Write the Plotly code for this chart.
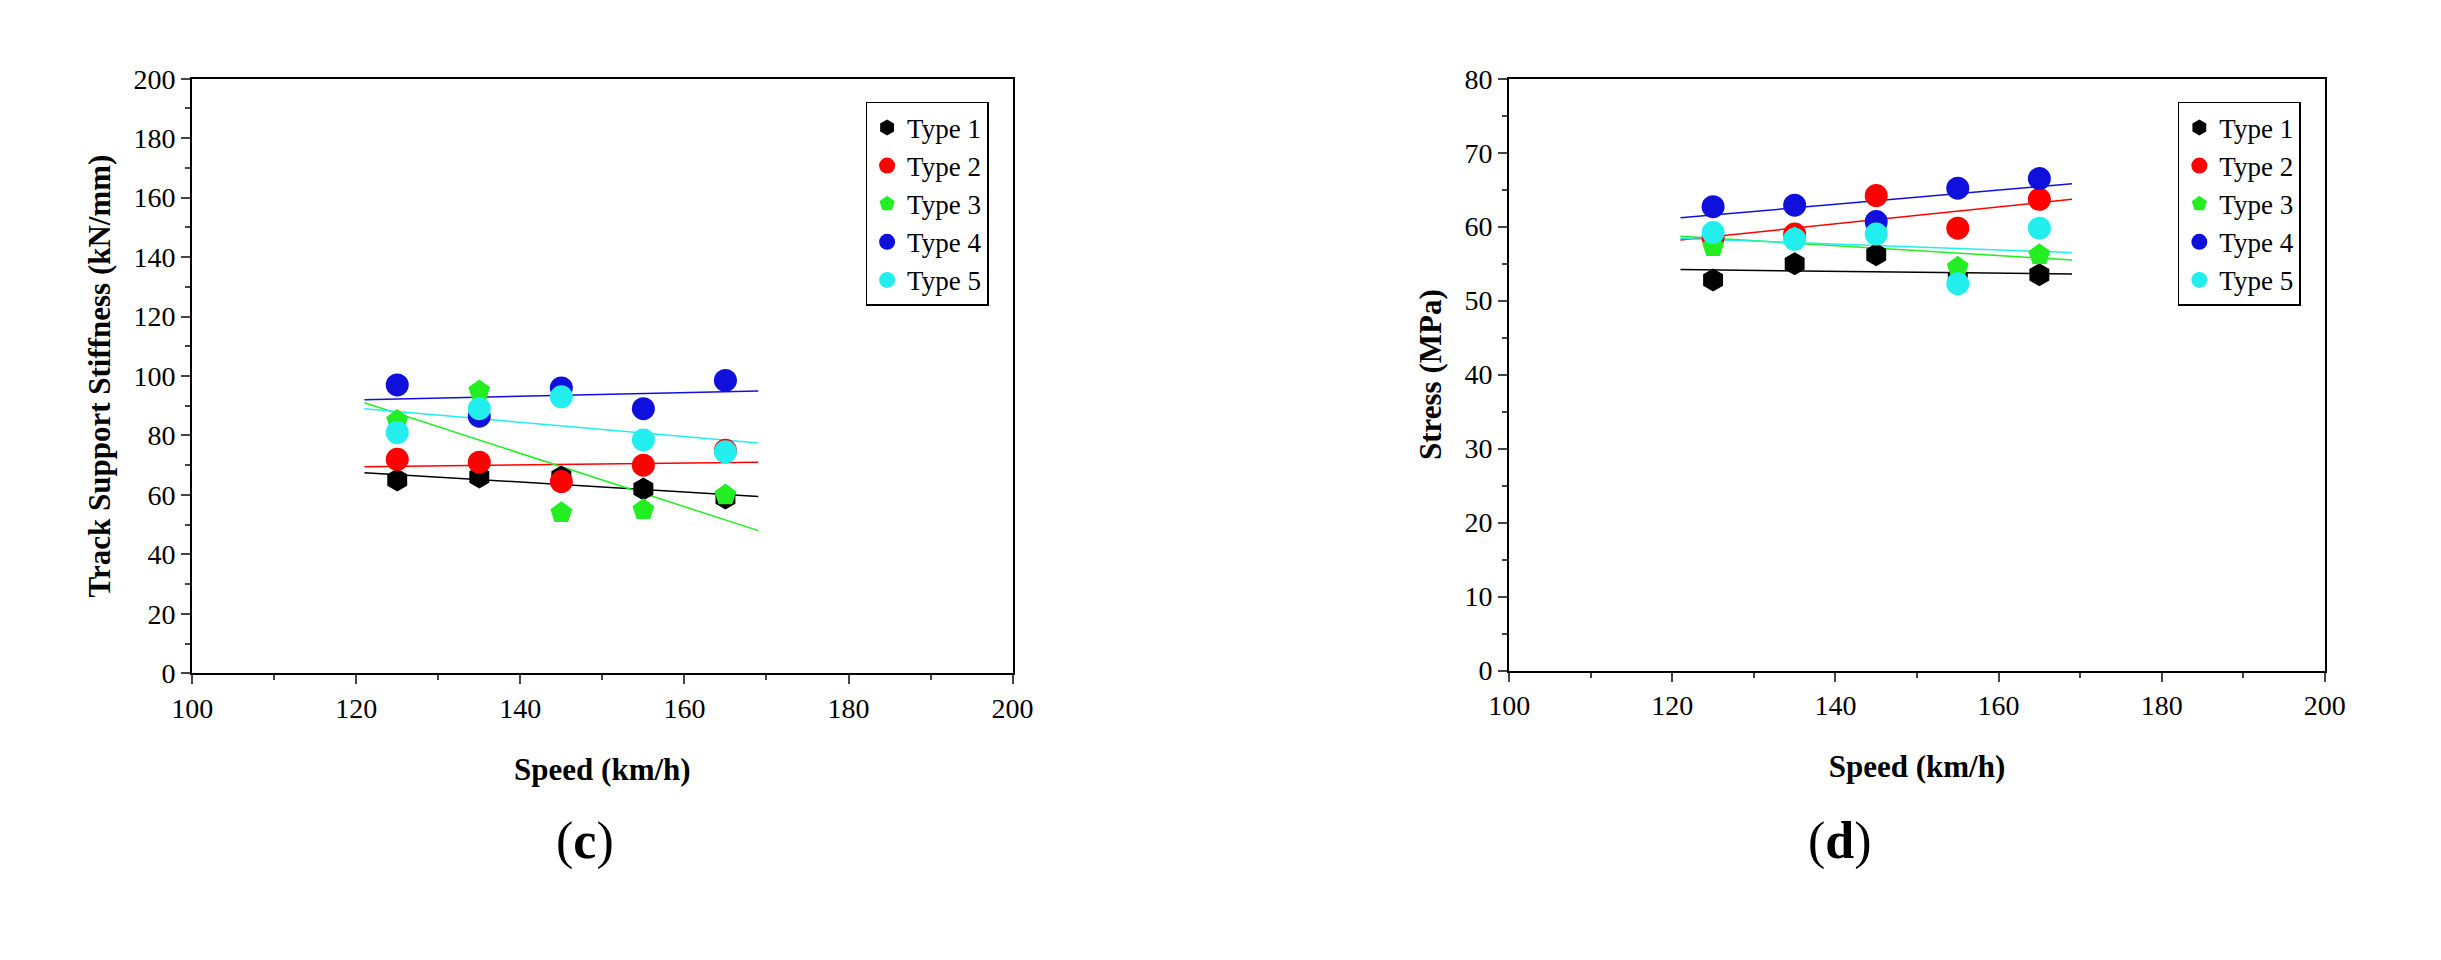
import plotly.graph_objects as go

speed = [125, 135, 145, 155, 165]
fit_x = [121, 169]
types = ["Type 1", "Type 2", "Type 3", "Type 4", "Type 5"]
colors = ["black", "red", "#22ee22", "#1010dd", "#22eeee"]
symbols = ["hexagon", "circle", "pentagon", "circle", "circle"]

# (c) track support stiffness
stiff = [
    [65, 66, 66, 62, 59],
    [72, 71, 64.5, 70, 75],
    [85, 95, 54, 55, 60],
    [97, 86.5, 96, 89, 98.5],
    [81, 89, 93, 78.5, 74.5],
]
stiff_fit = [[67.5, 59.5], [69.5, 71], [91, 48], [92, 95], [89, 77.5]]

# (d) stress
stress = [
    [52.8, 55, 56.2, 53, 53.5],
    [58.5, 59, 64.2, 59.8, 63.7],
    [57.3, 58.5, 59.5, 54.5, 56.2],
    [62.7, 62.9, 60.7, 65.2, 66.5],
    [59.2, 58.3, 59, 52.3, 59.8],
]
stress_fit = [[54.2, 53.6], [58.2, 63.7], [58.7, 55.5], [61.2, 65.8], [58.4, 56.5]]

FONT = "Liberation Serif"
fig = go.Figure()

for i, t in enumerate(types):
    fig.add_trace(go.Scatter(x=fit_x, y=stiff_fit[i], mode="lines", line=dict(color=colors[i], width=1.5),
                             showlegend=False, xaxis="x", yaxis="y"))
    fig.add_trace(go.Scatter(x=fit_x, y=stress_fit[i], mode="lines", line=dict(color=colors[i], width=1.5),
                             showlegend=False, xaxis="x2", yaxis="y2"))
for i, t in enumerate(types):
    fig.add_trace(go.Scatter(x=speed, y=stiff[i], mode="markers", name=t, legend="legend",
                             marker=dict(color=colors[i], symbol=symbols[i], size=23), xaxis="x", yaxis="y"))
    fig.add_trace(go.Scatter(x=speed, y=stress[i], mode="markers", name=t, legend="legend2",
                             marker=dict(color=colors[i], symbol=symbols[i], size=23), xaxis="x2", yaxis="y2"))

ax = dict(showline=True, linecolor="black", linewidth=2, mirror=True, ticks="outside", ticklen=9,
          tickwidth=2, showgrid=False, zeroline=False, tickfont=dict(family=FONT, size=28, color="black"))
title_font = dict(family=FONT, size=31, color="black")

leg = dict(bordercolor="black", borderwidth=1.5, bgcolor="white",
           font=dict(family=FONT, size=27, color="black"), xanchor="right", yanchor="top", tracegroupgap=0)

fig.update_layout(
    width=2441, height=960, plot_bgcolor="white", paper_bgcolor="white",
    margin=dict(l=0, r=0, t=0, b=0),
    xaxis=dict(ax, domain=[0.068, 0.41], range=[100, 200], dtick=20, anchor="y",
               minor=dict(ticks="outside", ticklen=5, tickwidth=1.5, dtick=10),
               title=dict(text="<b>Speed (km/h)</b>", font=title_font, standoff=35)),
    yaxis=dict(ax, domain=[0.3, 0.94], range=[0, 200], dtick=20, anchor="x",
               minor=dict(ticks="outside", ticklen=5, tickwidth=1.5, dtick=10),
               title=dict(text="<b>Track Support Stiffness (kN/mm)</b>", font=title_font, standoff=14)),
    xaxis2=dict(ax, domain=[0.617, 0.957], range=[100, 200], dtick=20, anchor="y2",
                minor=dict(ticks="outside", ticklen=5, tickwidth=1.5, dtick=10),
                title=dict(text="<b>Speed (km/h)</b>", font=title_font, standoff=35)),
    yaxis2=dict(ax, domain=[0.303, 0.94], range=[0, 80], dtick=10, anchor="x2",
                minor=dict(ticks="outside", ticklen=5, tickwidth=1.5, dtick=5),
                title=dict(text="<b>Stress (MPa)</b>", font=title_font, standoff=14)),
    legend=dict(leg, x=0.4, y=0.915),
    legend2=dict(leg, x=0.947, y=0.915),
    annotations=[
        dict(text="(<b>c</b>)", x=0.219, y=0.086, xref="paper", yref="paper", showarrow=False,
             font=dict(family=FONT, size=52, color="black")),
        dict(text="(<b>d</b>)", x=0.769, y=0.086, xref="paper", yref="paper", showarrow=False,
             font=dict(family=FONT, size=52, color="black")),
    ],
)

fig.write_html("out.html")
